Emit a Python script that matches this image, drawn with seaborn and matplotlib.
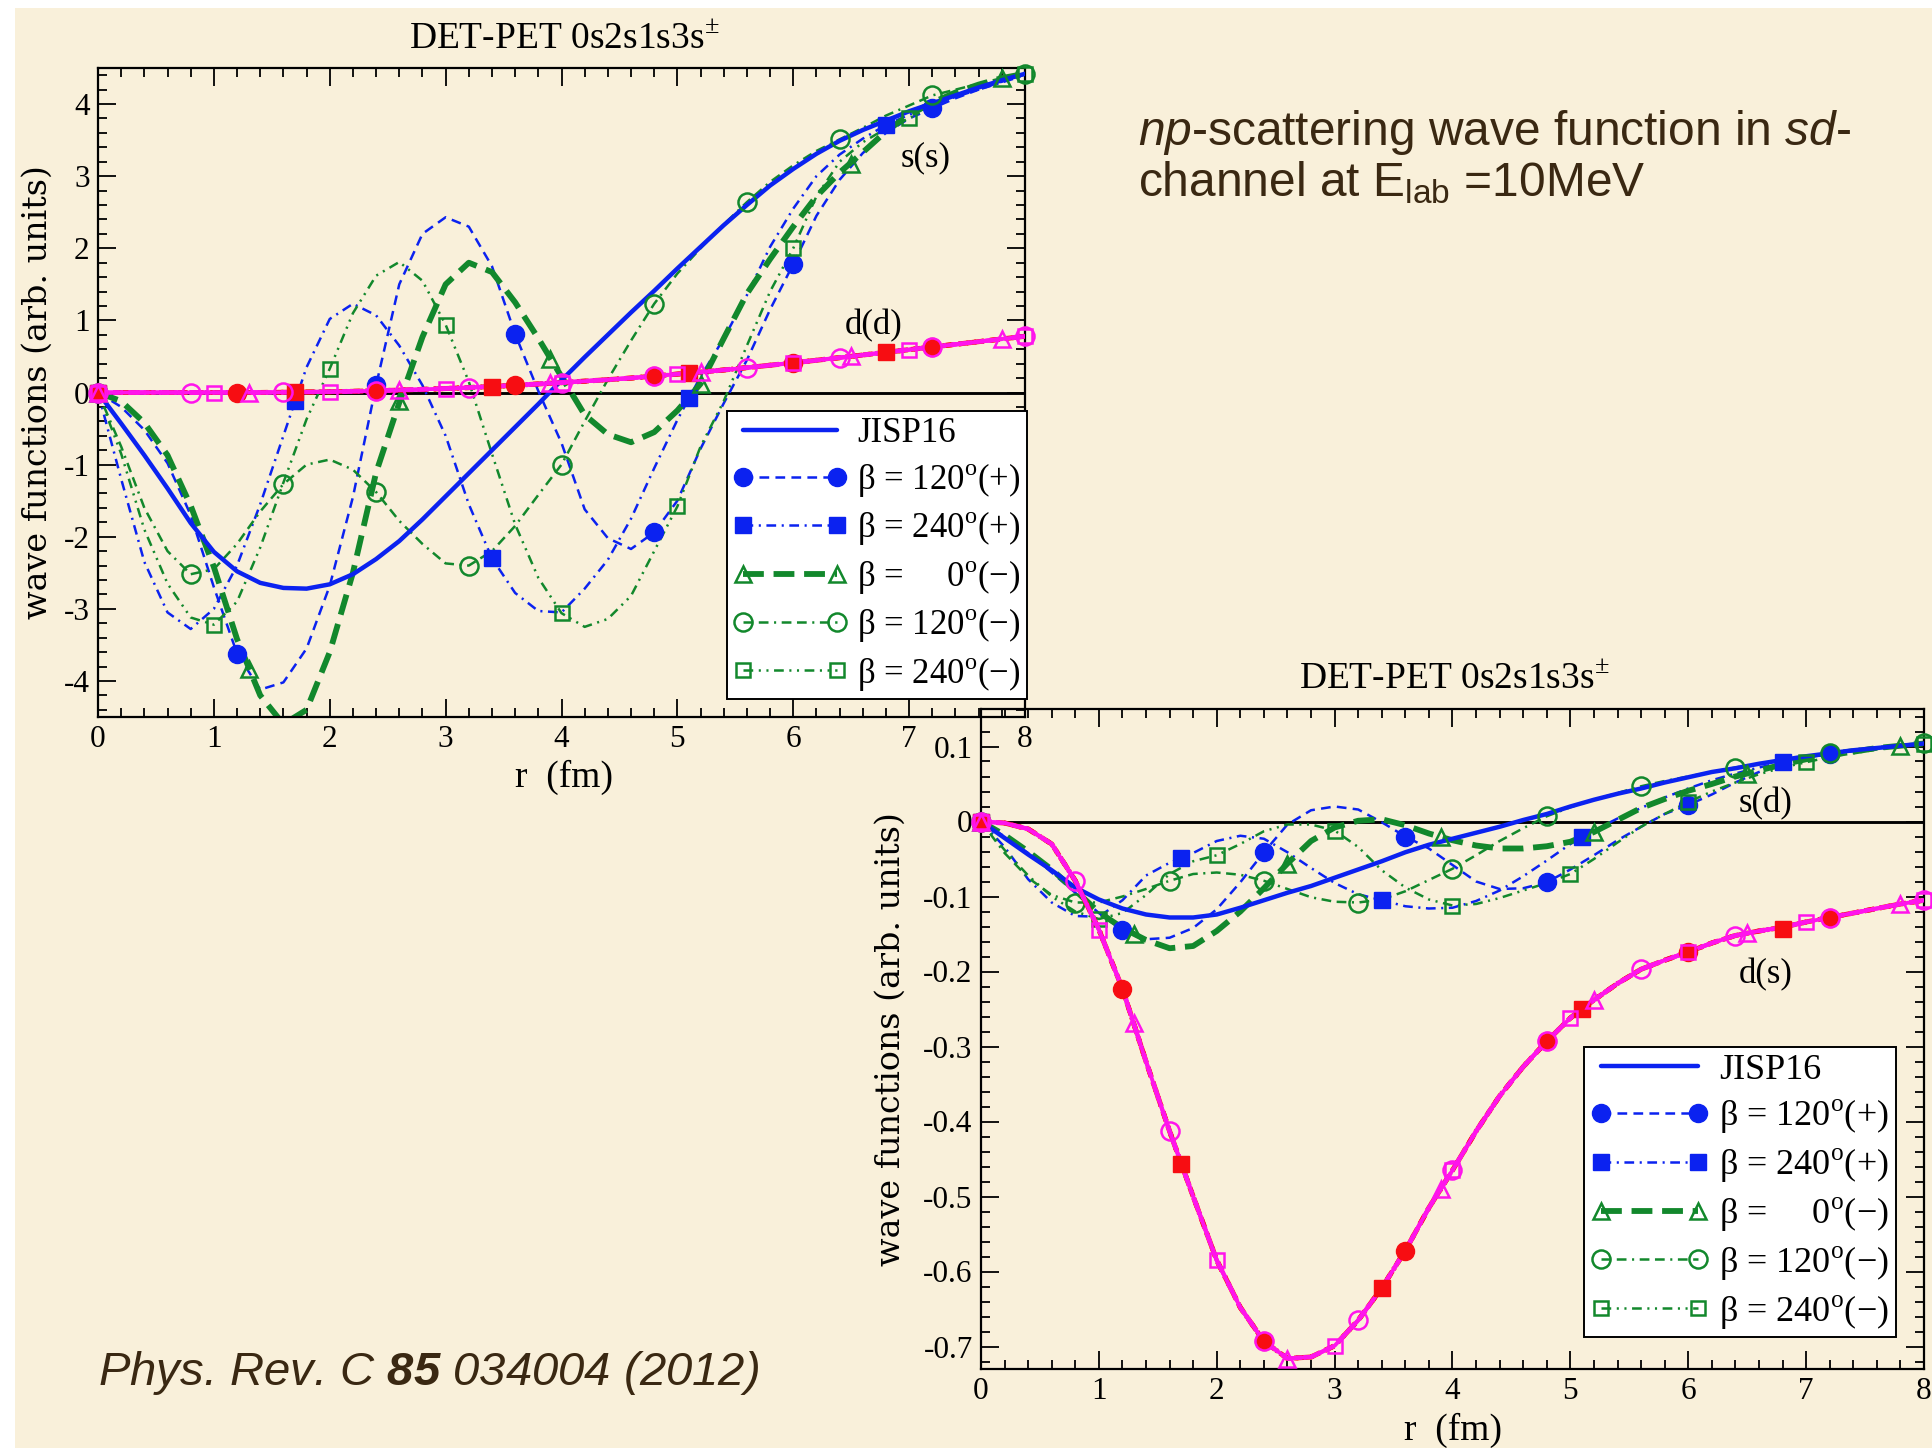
import numpy as np
import matplotlib
matplotlib.use("Agg")
import matplotlib.pyplot as plt
from matplotlib.lines import Line2D
from matplotlib.patches import Rectangle
from matplotlib.ticker import MultipleLocator, FuncFormatter
import seaborn as sns

W, H, DPI = 1933, 1448, 100

# radial grid (fm) on which every curve is tabulated
R = np.round(np.linspace(0.0, 8.0, 41), 1)

# ---------------- upper panel: s(s) and d(d) components ----------------
SS_JISP16 = [0, -0.43, -0.87, -1.33, -1.81, -2.21, -2.48, -2.64, -2.71, -2.72,
             -2.66, -2.52, -2.31, -2.06, -1.76, -1.44, -1.12, -0.80, -0.48, -0.16,
             0.17, 0.49, 0.80, 1.11, 1.41, 1.72, 2.02, 2.32, 2.60, 2.87,
             3.10, 3.31, 3.49, 3.64, 3.77, 3.90, 4.01, 4.12, 4.23, 4.33, 4.42]
SS_120P = [0, -0.2, -0.52, -0.98, -1.7, -2.7, -3.62, -4.12, -4.02, -3.55,
           -2.68, -1.45, 0.1, 1.5, 2.2, 2.43, 2.3, 1.75, 0.81, 0.02,
           -0.7, -1.62, -2.02, -2.17, -1.94, -1.5, -0.78, -0.15, 0.45, 1.15,
           1.78, 2.45, 2.95, 3.32, 3.6, 3.8, 3.94, 4.08, 4.2, 4.31, 4.41]
SS_240P = [0, -1.2, -2.35, -3.05, -3.28, -3.0, -2.4, -1.55, -0.6, 0.35,
           1.02, 1.23, 1.07, 0.65, 0.1, -0.6, -1.55, -2.3, -2.78, -3.03,
           -3.05, -2.72, -2.32, -1.75, -1.05, -0.38, 0.22, 0.75, 1.35, 2.02,
           2.55, 3.0, 3.3, 3.52, 3.71, 3.85, 3.98, 4.1, 4.2, 4.3, 4.4]
SS_0M = [0, -0.12, -0.42, -0.87, -1.57, -2.42, -3.42, -4.2, -4.6, -4.4,
         -3.6, -2.5, -1.11, -0.14, 0.77, 1.5, 1.8, 1.67, 1.25, 0.75,
         0.22, -0.31, -0.58, -0.69, -0.55, -0.25, 0.12, 0.75, 1.37, 1.85,
         2.3, 2.72, 3.05, 3.33, 3.62, 3.85, 4.02, 4.16, 4.27, 4.36, 4.42]
SS_120M = [0, -0.75, -1.6, -2.2, -2.52, -2.45, -2.1, -1.65, -1.27, -1.0,
           -0.93, -1.07, -1.38, -1.78, -2.1, -2.37, -2.4, -2.2, -1.85, -1.42,
           -1.0, -0.4, 0.18, 0.72, 1.23, 1.65, 2.0, 2.33, 2.64, 2.92,
           3.15, 3.35, 3.51, 3.67, 3.84, 3.98, 4.12, 4.2, 4.28, 4.36, 4.42]
SS_240M = [0, -0.85, -1.9, -2.65, -3.12, -3.22, -2.9, -2.15, -1.25, -0.37,
           0.33, 1.1, 1.62, 1.81, 1.55, 0.94, 0.15, -0.85, -1.83, -2.57,
           -3.06, -3.25, -3.14, -2.82, -2.2, -1.58, -0.75, -0.12, 0.65, 1.4,
           2.0, 2.72, 3.2, 3.47, 3.66, 3.8, 3.98, 4.12, 4.24, 4.34, 4.42]
DD_CURVE = [0, 0, 0, 0, 0, 0, 0, 0, 0.003, 0.006,
            0.01, 0.016, 0.024, 0.033, 0.043, 0.055, 0.068, 0.083, 0.1, 0.118,
            0.137, 0.157, 0.178, 0.2, 0.228, 0.255, 0.283, 0.312, 0.345, 0.378,
            0.412, 0.447, 0.483, 0.52, 0.557, 0.594, 0.632, 0.668, 0.705, 0.742, 0.78]

# ---------------- lower panel: s(d) and d(s) components ----------------
SD_JISP16 = [0, -0.022, -0.044, -0.065, -0.088, -0.104, -0.116, -0.124, -0.128, -0.128,
             -0.124, -0.115, -0.105, -0.095, -0.086, -0.075, -0.064, -0.053, -0.041, -0.031,
             -0.023, -0.015, -0.007, 0.002, 0.010, 0.02, 0.029, 0.037, 0.044, 0.052,
             0.059, 0.066, 0.071, 0.077, 0.082, 0.087, 0.091, 0.095, 0.098, 0.101, 0.104]
SD_120P = [0, -0.02, -0.042, -0.068, -0.095, -0.122, -0.145, -0.157, -0.155, -0.142,
           -0.117, -0.081, -0.041, -0.004, 0.015, 0.02, 0.016, -0.001, -0.02, -0.036,
           -0.058, -0.08, -0.09, -0.089, -0.081, -0.064, -0.045, -0.025, -0.007, 0.01,
           0.022, 0.036, 0.052, 0.066, 0.077, 0.085, 0.09, 0.094, 0.098, 0.101, 0.104]
SD_240P = [0, -0.034, -0.077, -0.108, -0.126, -0.127, -0.105, -0.072, -0.055, -0.042,
           -0.026, -0.019, -0.023, -0.041, -0.062, -0.082, -0.097, -0.105, -0.113, -0.116,
           -0.115, -0.106, -0.092, -0.073, -0.052, -0.03, -0.012, 0.004, 0.018, 0.032,
           0.044, 0.055, 0.064, 0.072, 0.079, 0.085, 0.09, 0.094, 0.098, 0.101, 0.104]
SD_0M = [0, -0.018, -0.04, -0.064, -0.092, -0.121, -0.142, -0.158, -0.169, -0.166,
         -0.146, -0.12, -0.089, -0.056, -0.026, -0.008, 0.001, 0.003, -0.005, -0.016,
         -0.025, -0.032, -0.036, -0.036, -0.033, -0.027, -0.014, 0.002, 0.018, 0.03,
         0.041, 0.05, 0.06, 0.068, 0.076, 0.083, 0.089, 0.093, 0.098, 0.101, 0.104]
SD_120M = [0, -0.042, -0.075, -0.098, -0.108, -0.108, -0.1, -0.09, -0.079, -0.07,
           -0.068, -0.071, -0.079, -0.09, -0.101, -0.107, -0.108, -0.104, -0.093, -0.078,
           -0.063, -0.045, -0.026, -0.009, 0.007, 0.019, 0.029, 0.038, 0.047, 0.054,
           0.06, 0.066, 0.072, 0.077, 0.082, 0.087, 0.092, 0.096, 0.099, 0.102, 0.105]
SD_240M = [0, -0.038, -0.072, -0.1, -0.12, -0.13, -0.122, -0.098, -0.07, -0.053,
           -0.045, -0.03, -0.013, -0.004, -0.004, -0.012, -0.034, -0.065, -0.088, -0.104,
           -0.112, -0.11, -0.102, -0.092, -0.082, -0.07, -0.05, -0.028, -0.007, 0.01,
           0.026, 0.04, 0.052, 0.063, 0.072, 0.079, 0.086, 0.091, 0.096, 0.1, 0.104]
DS_CURVE = [0, -0.002, -0.01, -0.03, -0.079, -0.144, -0.223, -0.32, -0.413, -0.5,
            -0.585, -0.648, -0.693, -0.716, -0.714, -0.699, -0.665, -0.622, -0.572, -0.515,
            -0.465, -0.413, -0.366, -0.327, -0.293, -0.262, -0.238, -0.216, -0.197, -0.185,
            -0.174, -0.162, -0.152, -0.146, -0.141, -0.134, -0.128, -0.122, -0.116, -0.11, -0.105]

# symbol positions (fm) for each parameter set
MR_120P = [0, 1.2, 2.4, 3.6, 4.8, 6.0, 7.2]
MR_240P = [0, 1.7, 3.4, 5.1, 6.8]
MR_0M = [0, 1.3, 2.6, 3.9, 5.2, 6.5, 7.8]
MR_120M = [0, 0.8, 1.6, 2.4, 3.2, 4.0, 4.8, 5.6, 6.4, 7.2, 8.0]
MR_240M = [0, 1, 2, 3, 4, 5, 6, 7, 8]

# symbol values, upper panel
SS_MK_120P = [0, -3.62, 0.1, 0.81, -1.94, 1.78, 3.94]
SS_MK_240P = [0, -0.12, -2.3, -0.08, 3.71]
SS_MK_0M = [0, -3.84, -0.12, 0.47, 0.12, 3.17, 4.36]
SS_MK_120M = [0, -2.52, -1.27, -1.38, -2.4, -1.0, 1.23, 2.64, 3.51, 4.12, 4.42]
SS_MK_240M = [0, -3.22, 0.33, 0.94, -3.06, -1.58, 2.0, 3.8, 4.42]
DD_MK_120P = [0, 0, 0.024, 0.1, 0.228, 0.412, 0.632]
DD_MK_240P = [0, 0.002, 0.083, 0.27, 0.557]
DD_MK_0M = [0, 0, 0.033, 0.128, 0.283, 0.5, 0.742]
DD_MK_120M = [0, 0, 0.003, 0.024, 0.068, 0.137, 0.228, 0.345, 0.483, 0.632, 0.78]
DD_MK_240M = [0, 0, 0.01, 0.055, 0.137, 0.255, 0.412, 0.594, 0.78]

# symbol values, lower panel
SD_MK_120P = [0, -0.145, -0.041, -0.02, -0.081, 0.022, 0.09]
SD_MK_240P = [0, -0.049, -0.105, -0.021, 0.079]
SD_MK_0M = [0, -0.15, -0.056, -0.02, -0.014, 0.064, 0.101]
SD_MK_120M = [0, -0.108, -0.079, -0.079, -0.108, -0.063, 0.007, 0.047, 0.072, 0.092, 0.105]
SD_MK_240M = [0, -0.13, -0.045, -0.012, -0.112, -0.07, 0.026, 0.079, 0.104]
DS_MK_120P = [0, -0.223, -0.693, -0.572, -0.293, -0.174, -0.128]
DS_MK_240P = [0, -0.457, -0.622, -0.25, -0.143]
DS_MK_0M = [0, -0.268, -0.716, -0.49, -0.238, -0.149, -0.11]
DS_MK_120M = [0, -0.079, -0.413, -0.693, -0.665, -0.465, -0.293, -0.197, -0.152, -0.128, -0.105]
DS_MK_240M = [0, -0.144, -0.585, -0.699, -0.465, -0.262, -0.174, -0.134, -0.105]

LEGEND_LABELS = ["JISP16",
                 "\u03b2 = 120$^\\mathregular{o}$(+)",
                 "\u03b2 = 240$^\\mathregular{o}$(+)",
                 "\u03b2 =     0$^\\mathregular{o}$(\u2212)",
                 "\u03b2 = 120$^\\mathregular{o}$(\u2212)",
                 "\u03b2 = 240$^\\mathregular{o}$(\u2212)"]
PANEL_TITLE = "DET-PET 0s2s1s3s$^\\mathregular{\u00b1}$"

BLUE = "#0b22f0"
GREEN = "#12882c"
MAGENTA = "#ff14ec"
RED = "#f70d12"
BG = "#f9f0da"
INK = "#3a2812"

KEYS = ["120P", "240P", "0M", "120M", "240M"]
STYLES = {
    "120P": dict(ls=(0, (7, 4.5)), lw=1.8, marker="o", ms=13, filled=True, s_col=BLUE, d_col=RED),
    "240P": dict(ls=(0, (7, 4, 1.5, 4)), lw=1.8, marker="s", ms=11, filled=True, s_col=BLUE, d_col=RED),
    "0M": dict(ls=(0, (15, 7)), lw=4.2, marker="^", ms=12, filled=False, s_col=GREEN, d_col=MAGENTA),
    "120M": dict(ls=(0, (7, 4, 7, 4, 1.5, 4)), lw=1.8, marker="o", ms=13, filled=False, s_col=GREEN, d_col=MAGENTA),
    "240M": dict(ls=(0, (7, 4, 1.5, 4, 1.5, 4)), lw=1.8, marker="s", ms=10, filled=False, s_col=GREEN, d_col=MAGENTA),
}
MARK_R = {"120P": MR_120P, "240P": MR_240P, "0M": MR_0M, "120M": MR_120M, "240M": MR_240M}

sns.set_theme(style="ticks")
plt.rcParams.update({
    "font.family": "Liberation Serif",
    "mathtext.fontset": "custom",
    "mathtext.rm": "Liberation Sans",
    "mathtext.it": "Liberation Sans:italic",
    "mathtext.bf": "Liberation Sans:italic:bold",
    "axes.unicode_minus": False,
    "lines.scale_dashes": False,
    "axes.edgecolor": "black",
    "text.color": "black",
    "xtick.color": "black",
    "ytick.color": "black",
})


def fmt(v, _pos):
    v = round(v, 3) + 0.0
    return f"{v:g}"


def style_axes(ax, ylim, ymajor, yminor):
    ax.set_xlim(0, 8)
    ax.set_ylim(*ylim)
    ax.xaxis.set_major_locator(MultipleLocator(1))
    ax.xaxis.set_minor_locator(MultipleLocator(0.2))
    ax.yaxis.set_major_locator(MultipleLocator(ymajor))
    ax.yaxis.set_minor_locator(MultipleLocator(yminor))
    ax.xaxis.set_major_formatter(FuncFormatter(fmt))
    ax.yaxis.set_major_formatter(FuncFormatter(fmt))
    ax.tick_params(which="both", direction="in", top=True, right=True, width=1.3)
    ax.tick_params(which="major", length=13, labelsize=22.5, pad=6)
    ax.tick_params(which="minor", length=6.5)
    for sp in ax.spines.values():
        sp.set_linewidth(1.6)
        sp.set_color("black")
    ax.set_facecolor("none")
    ax.set_xlabel("")
    ax.set_ylabel("")
    ax.axhline(0, color="black", lw=1.8, zorder=1)


def symbols(ax, r, v, st, col, z):
    ax.plot(r, v, linestyle="none", marker=st["marker"], markersize=st["ms"],
            markerfacecolor=col if st["filled"] else "none", markeredgecolor=col,
            markeredgewidth=1.0 if st["filled"] else 1.8, zorder=z, clip_on=False)


def draw_panel(ax, s_curves, s_jisp, d_curve, s_marks, d_marks):
    for k in KEYS:
        st = STYLES[k]
        sns.lineplot(x=R, y=s_curves[k], ax=ax, color=st["s_col"], linestyle=st["ls"],
                     linewidth=st["lw"], errorbar=None, legend=False, zorder=2)
    sns.lineplot(x=R, y=s_jisp, ax=ax, color=BLUE, linewidth=3.2, errorbar=None,
                 legend=False, zorder=3)
    for k in KEYS:
        symbols(ax, MARK_R[k], s_marks[k], STYLES[k], STYLES[k]["s_col"], 4)
    for k in KEYS:
        st = STYLES[k]
        sns.lineplot(x=R, y=d_curve, ax=ax, color=st["d_col"], linestyle=st["ls"],
                     linewidth=3.6 if st["d_col"] == RED else 3.0, errorbar=None,
                     legend=False, zorder=5)
    sns.lineplot(x=R, y=d_curve, ax=ax, color=MAGENTA, linewidth=2.8, errorbar=None,
                 legend=False, zorder=6)
    for k in KEYS:
        symbols(ax, MARK_R[k], d_marks[k], STYLES[k], STYLES[k]["d_col"], 7)


def add_legend(ax, anchor, size):
    handles = [Line2D([], [], color=BLUE, lw=3.2)]
    for k in KEYS:
        st = STYLES[k]
        col = st["s_col"]
        handles.append(Line2D([], [], color=col, linestyle=st["ls"], lw=st["lw"],
                              marker=st["marker"], markersize=st["ms"],
                              markerfacecolor=col if st["filled"] else "none",
                              markeredgecolor=col,
                              markeredgewidth=1.0 if st["filled"] else 1.8))
    leg = ax.legend(handles, LEGEND_LABELS, loc="lower right", bbox_to_anchor=anchor,
                    bbox_transform=ax.transAxes, borderaxespad=0, frameon=True,
                    fancybox=False, framealpha=1, facecolor="white", edgecolor="black",
                    fontsize=size, numpoints=2, handlelength=3.3, handletextpad=0.28,
                    labelspacing=0.3, borderpad=0.18)
    leg.get_frame().set_linewidth(1.4)
    leg.set_zorder(20)


fig = plt.figure(figsize=(W / DPI, H / DPI), dpi=DPI, facecolor="white")
fig.patches.append(Rectangle((15 / W, 0), 1 - 15 / W, 1 - 8 / H, transform=fig.transFigure,
                             facecolor=BG, edgecolor="none", zorder=-10))

# upper panel
ax1 = fig.add_axes([98 / W, 1 - 717 / H, 927 / W, 649 / H])
style_axes(ax1, (-4.5, 4.5), 1, 0.2)
draw_panel(ax1,
           {"120P": SS_120P, "240P": SS_240P, "0M": SS_0M, "120M": SS_120M, "240M": SS_240M},
           SS_JISP16, DD_CURVE,
           {"120P": SS_MK_120P, "240P": SS_MK_240P, "0M": SS_MK_0M, "120M": SS_MK_120M, "240M": SS_MK_240M},
           {"120P": DD_MK_120P, "240P": DD_MK_240P, "0M": DD_MK_0M, "120M": DD_MK_120M, "240M": DD_MK_240M})
style_axes(ax1, (-4.5, 4.5), 1, 0.2)
ax1.text(7.14, 3.25, "s(s)", fontsize=25, ha="center", va="center", zorder=8)
ax1.text(6.69, 0.92, "d(d)", fontsize=25, ha="center", va="center", zorder=8)
add_legend(ax1, (1.002, 0.028), 25)

# lower panel
ax2 = fig.add_axes([981 / W, 1 - 1369 / H, 943 / W, 660 / H])
style_axes(ax2, (-0.73, 0.15), 0.1, 0.02)
draw_panel(ax2,
           {"120P": SD_120P, "240P": SD_240P, "0M": SD_0M, "120M": SD_120M, "240M": SD_240M},
           SD_JISP16, DS_CURVE,
           {"120P": SD_MK_120P, "240P": SD_MK_240P, "0M": SD_MK_0M, "120M": SD_MK_120M, "240M": SD_MK_240M},
           {"120P": DS_MK_120P, "240P": DS_MK_240P, "0M": DS_MK_0M, "120M": DS_MK_120M, "240M": DS_MK_240M})
style_axes(ax2, (-0.73, 0.15), 0.1, 0.02)
ax2.text(6.66, 0.024, "s(d)", fontsize=25, ha="center", va="center", zorder=8)
ax2.text(6.66, -0.204, "d(s)", fontsize=25, ha="center", va="center", zorder=8)
add_legend(ax2, (0.970, 0.048), 26)

# panel titles and axis labels
fig.text(564 / W, 1 - 49 / H, PANEL_TITLE, fontsize=27, ha="center", va="baseline")
fig.text(1454 / W, 1 - 689 / H, PANEL_TITLE, fontsize=27, ha="center", va="baseline")
fig.text(38 / W, 1 - 392 / H, "wave functions (arb. units)", family="DejaVu Serif",
         fontsize=24, rotation=90, ha="center", va="center")
fig.text(891 / W, 1 - 1039 / H, "wave functions (arb. units)", family="DejaVu Serif",
         fontsize=24, rotation=90, ha="center", va="center")
fig.text(564 / W, 1 - 777 / H, "r  (fm)", fontsize=27, ha="center", va="center")
fig.text(1453 / W, 1 - 1430 / H, "r  (fm)", fontsize=27, ha="center", va="center")

# caption text
fig.text(1138 / W, 1 - 145 / H, "$\\mathit{np}$-scattering wave function in $\\mathit{sd}$-",
         family="Liberation Sans", fontsize=34.5, color=INK, ha="left", va="baseline")
fig.text(1138 / W, 1 - 196 / H, "channel at E$_\\mathregular{lab}$ =10MeV",
         family="Liberation Sans", fontsize=34.5, color=INK, ha="left", va="baseline")
fig.text(98 / W, 1 - 1385 / H, "Phys. Rev. C $\\mathbf{85}$ 034004 (2012)",
         family="Liberation Sans", style="italic", fontsize=34, color=INK,
         ha="left", va="baseline")

fig.savefig("out.png", dpi=DPI, facecolor=fig.get_facecolor())
